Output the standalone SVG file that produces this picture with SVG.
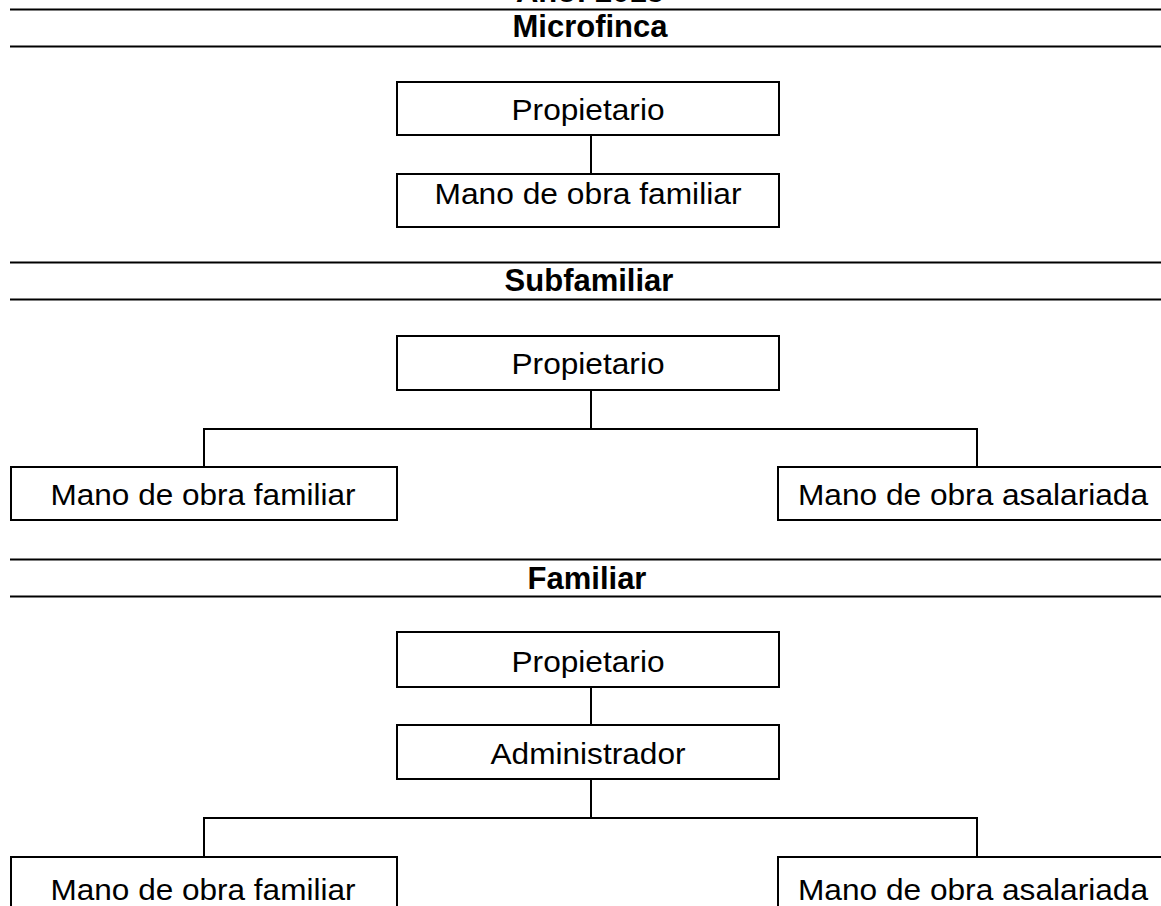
<svg xmlns="http://www.w3.org/2000/svg" width="1161" height="906" viewBox="0 0 1161 906">
<style>
.bg{fill:#fff}
.rule{stroke:#000;stroke-width:2;fill:none}
.box{fill:#fff;stroke:#000;stroke-width:2}
.conn{stroke:#000;stroke-width:2;fill:none}
.t{font-family:"Liberation Sans",Arial,sans-serif;font-size:30px;fill:#000;text-anchor:middle}
.h{font-family:"Liberation Sans",Arial,sans-serif;font-size:31px;font-weight:bold;fill:#000;text-anchor:middle}
</style>
<rect class="bg" x="0" y="0" width="1161" height="906"/>
<g id="headers">
<text class="h" x="590" y="2">Año: 2015</text>
<line class="rule" x1="10" y1="9.5" x2="1161" y2="9.5"/>
<text class="h" x="590" y="37">Microfinca</text>
<line class="rule" x1="10" y1="46.5" x2="1161" y2="46.5"/>
<line class="rule" x1="10" y1="262.5" x2="1161" y2="262.5"/>
<text class="h" x="589" y="291">Subfamiliar</text>
<line class="rule" x1="10" y1="299.5" x2="1161" y2="299.5"/>
<line class="rule" x1="10" y1="559.5" x2="1161" y2="559.5"/>
<text class="h" x="587" y="588.5">Familiar</text>
<line class="rule" x1="10" y1="596.5" x2="1161" y2="596.5"/>
</g>
<g id="connectors">
<line class="conn" x1="591" y1="135" x2="591" y2="174"/>
<polyline class="conn" points="591,390 591,429"/>
<polyline class="conn" points="204,467 204,429 977,429 977,467"/>
<line class="conn" x1="591" y1="687" x2="591" y2="725"/>
<line class="conn" x1="591" y1="779" x2="591" y2="818"/>
<polyline class="conn" points="204,857 204,818 977,818 977,857"/>
</g>
<g id="micro-propietario">
<rect class="box" x="397" y="82" width="382" height="53"/>
<text class="t" x="588" y="120" textLength="153" lengthAdjust="spacingAndGlyphs">Propietario</text>
</g>
<g id="micro-familiar">
<rect class="box" x="397" y="174" width="382" height="53"/>
<text class="t" x="588" y="204" textLength="307" lengthAdjust="spacingAndGlyphs">Mano de obra familiar</text>
</g>
<g id="sub-propietario">
<rect class="box" x="397" y="336" width="382" height="54"/>
<text class="t" x="588" y="374" textLength="153" lengthAdjust="spacingAndGlyphs">Propietario</text>
</g>
<g id="sub-familiar">
<rect class="box" x="11" y="467" width="386" height="53"/>
<text class="t" x="203" y="505" textLength="305" lengthAdjust="spacingAndGlyphs">Mano de obra familiar</text>
</g>
<g id="sub-asalariada">
<rect class="box" x="778" y="467" width="400" height="53"/>
<text class="t" x="973" y="505" textLength="350" lengthAdjust="spacingAndGlyphs">Mano de obra asalariada</text>
</g>
<g id="fam-propietario">
<rect class="box" x="397" y="632" width="382" height="55"/>
<text class="t" x="588" y="671.5" textLength="153" lengthAdjust="spacingAndGlyphs">Propietario</text>
</g>
<g id="fam-administrador">
<rect class="box" x="397" y="725" width="382" height="54"/>
<text class="t" x="588" y="764" textLength="195" lengthAdjust="spacingAndGlyphs">Administrador</text>
</g>
<g id="fam-familiar">
<rect class="box" x="11" y="857" width="386" height="70"/>
<text class="t" x="203" y="900" textLength="305" lengthAdjust="spacingAndGlyphs">Mano de obra familiar</text>
</g>
<g id="fam-asalariada">
<rect class="box" x="778" y="857" width="400" height="70"/>
<text class="t" x="973" y="900" textLength="350" lengthAdjust="spacingAndGlyphs">Mano de obra asalariada</text>
</g>
</svg>
